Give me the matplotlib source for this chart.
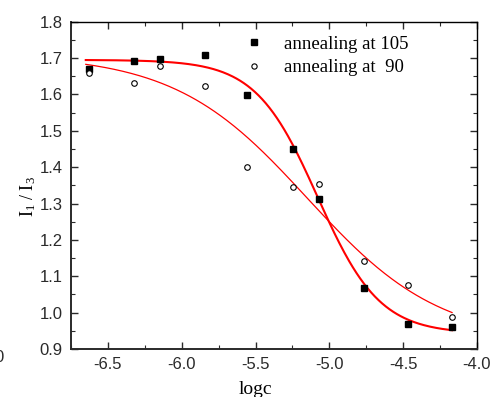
import numpy as np
import matplotlib
matplotlib.use("Agg")
import matplotlib.pyplot as plt
from matplotlib.ticker import MultipleLocator, FormatStrFormatter

plt.rcParams["mathtext.fontset"] = "custom"
plt.rcParams["mathtext.rm"] = "Liberation Serif"
plt.rcParams["mathtext.it"] = "Liberation Serif"

# Data
logc = [-6.63, -6.32, -6.147, -5.845, -5.557, -5.246, -5.07, -4.768, -4.469, -4.169]
ratio_105 = [1.671, 1.691, 1.698, 1.708, 1.598, 1.450, 1.313, 1.067, 0.969, 0.960]
ratio_90 = [1.660, 1.632, 1.677, 1.622, 1.401, 1.345, 1.353, 1.141, 1.077, 0.989]

# Boltzmann fit parameters (A1, A2, x0, dx) estimated from the drawn curves
fit_105 = [1.695, 0.942, -5.08, 0.21]
fit_90 = [1.71, 0.92, -5.15, 0.45]

labels = ["annealing at 105", "annealing at  90"]


def boltzmann(x, p):
    A1, A2, x0, dx = p
    return A2 + (A1 - A2) / (1.0 + np.exp((x - x0) / dx))


W, H = 493, 397
fig = plt.figure(figsize=(W / 100, H / 100), dpi=100)
ax = fig.add_axes([71 / W, 1 - 349 / H, (477 - 71) / W, (349 - 21.7) / H])

xs = np.linspace(min(logc) - 0.02, max(logc), 300)
ax.plot(xs, boltzmann(xs, fit_105), color="#ff0000", lw=1.5, zorder=2)
ax.plot(xs, boltzmann(xs, fit_90), color="#ff0000", lw=0.9, zorder=2)

ax.plot(logc, ratio_105, ls="none", marker="s", ms=4.6, color="black",
        label=labels[0], zorder=3)
ax.plot(logc, ratio_90, ls="none", marker="o", ms=4.0, mfc="white",
        mec="black", mew=0.8, label=labels[1], zorder=3)

ax.set_xlim(-6.75, -4.0)
ax.set_ylim(0.9, 1.8)
ax.xaxis.set_major_locator(MultipleLocator(0.5))
ax.xaxis.set_minor_locator(MultipleLocator(0.25))
ax.yaxis.set_major_locator(MultipleLocator(0.1))
ax.yaxis.set_minor_locator(MultipleLocator(0.05))
ax.xaxis.set_major_formatter(FormatStrFormatter("%.1f"))
ax.yaxis.set_major_formatter(FormatStrFormatter("%.1f"))

tick_col = "#2a2a2a"
ax.tick_params(which="both", direction="in", top=True, right=True,
               color=tick_col)
ax.tick_params(which="major", length=5, width=1)
ax.tick_params(which="minor", length=3, width=0.8)
ax.tick_params(axis="both", labelsize=12, labelcolor=tick_col)
ax.tick_params(axis="x", pad=6)
ax.tick_params(axis="y", pad=6)
for lab in ax.get_xticklabels() + ax.get_yticklabels():
    lab.set_fontfamily("Liberation Sans")

for s in ["left", "bottom"]:
    ax.spines[s].set_linewidth(1.4)
    ax.spines[s].set_color(tick_col)
for s in ["top", "right"]:
    ax.spines[s].set_linewidth(1.0)
    ax.spines[s].set_color("black")

fig.text(255.5 / W, 1 - 389 / H, "logc", ha="center", va="center",
         fontfamily="Liberation Serif", fontsize=14)
fig.text(28 / W, 1 - 197 / H, r"I$_1$ / I$_3$", ha="center", va="center",
         rotation=90, fontfamily="Liberation Serif", fontsize=13)

leg = ax.legend(loc="upper left", bbox_to_anchor=(0.4276, 0.958), frameon=False,
                borderaxespad=0, borderpad=0,
                prop={"family": "Liberation Serif", "size": 13.5},
                handletextpad=1.1, labelspacing=0.35, handlelength=1.0)
hs = leg.legend_handles
hs[0].set_markersize(4.0)
hs[1].set_markersize(3.8)

fig.text(4 / W, 1 - 358 / H, "0", ha="right", va="center",
         fontfamily="Liberation Sans", fontsize=12, color=tick_col)

fig.savefig("out.png", dpi=100)
